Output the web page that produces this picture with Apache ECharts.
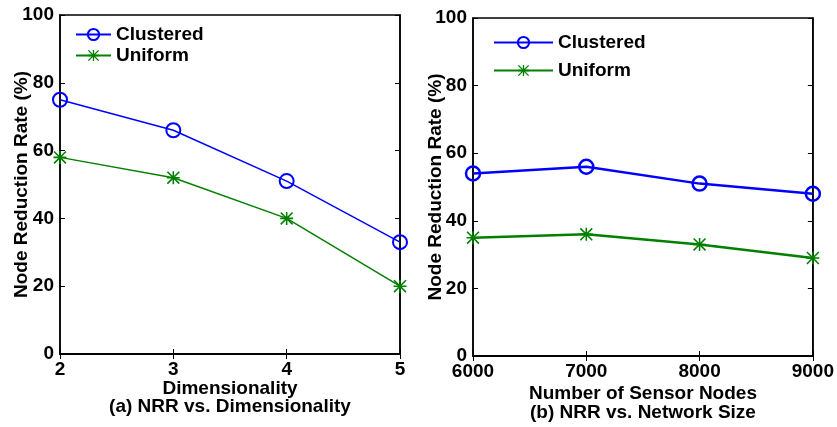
<!DOCTYPE html>
<html>
<head>
<meta charset="utf-8">
<script src="https://cdn.jsdelivr.net/npm/echarts@6/dist/echarts.min.js"></script>
<style>
  html, body { margin: 0; padding: 0; background: #fff; }
  #chart { width: 837px; height: 427px; }
</style>
</head>
<body>
<div id="chart"></div>
<script>
// Panel (a): node reduction rate vs. dimensionality
const dims = [2, 3, 4, 5];
const dimClustered = [75, 66, 51, 33];
const dimUniform = [58, 52, 40, 20];

// Panel (b): node reduction rate vs. number of sensor nodes
const nodes = [6000, 7000, 8000, 9000];
const nodeClustered = [54, 56, 51, 48];
const nodeUniform = [35, 36, 33, 29];

const FONT = '"Liberation Sans", Arial, Helvetica, sans-serif';
const BLUE = '#0000ff';
const GREEN = '#008000';

// 8-armed asterisk marker (plus + cross), all sub-paths clockwise
const ASTERISK = 'path://M8.8 0L11.2 0L11.2 20L8.8 20Z M0 8.8L20 8.8L20 11.2L0 11.2Z ' +
  'M1.7 0L20 18.3L18.3 20L0 1.7Z M18.3 0L20 1.7L1.7 20L0 18.3Z';

const pairs = (xs, ys) => xs.map((x, i) => [x, ys[i]]);

const txt = { fontFamily: FONT, fontWeight: 'bold', fontSize: 19, color: '#000' };
const axisLine = { show: true, lineStyle: { color: '#000', width: 1.5 } };
const tick = { show: true, inside: true, length: 5, lineStyle: { color: '#000', width: 1 } };

function xAxes(grid, min, max, interval, name, gap, lineHeight) {
  return [
    {
      type: 'value', gridIndex: grid, position: 'bottom', min, max, interval,
      axisLine, axisTick: tick, splitLine: { show: false },
      axisLabel: Object.assign({ margin: 6, formatter: v => String(v) }, txt),
      name, nameLocation: 'middle', nameGap: gap, nameMoveOverlap: false,
      nameTextStyle: Object.assign({ lineHeight }, txt)
    },
    {
      type: 'value', gridIndex: grid, position: 'top', min, max, interval,
      axisLine, axisTick: tick, splitLine: { show: false }, axisLabel: { show: false }
    }
  ];
}

function yAxes(grid, gap) {
  return [
    {
      type: 'value', gridIndex: grid, position: 'left', min: 0, max: 100, interval: 20,
      axisLine, axisTick: tick, splitLine: { show: false },
      axisLabel: Object.assign({ margin: 6 }, txt),
      name: 'Node Reduction Rate (%)', nameLocation: 'middle', nameGap: gap,
      nameMoveOverlap: false,
      nameTextStyle: txt
    },
    {
      type: 'value', gridIndex: grid, position: 'right', min: 0, max: 100, interval: 20,
      axisLine, axisTick: tick, splitLine: { show: false }, axisLabel: { show: false }
    }
  ];
}

function lineSeries(name, data, color, symbol, width, xi, yi) {
  const circle = symbol === 'circle';
  return {
    name, type: 'line', data, xAxisIndex: xi, yAxisIndex: yi,
    symbol, symbolSize: circle ? 14 : 13,
    showAllSymbol: true, clip: false, animation: false,
    lineStyle: { color, width },
    itemStyle: circle
      ? { color: 'rgba(255,255,255,0)', borderColor: color, borderWidth: width > 2 ? 2.5 : 2 }
      : { color, borderWidth: 0 },
    emphasis: { disabled: true }
  };
}

const legendBase = {
  orient: 'vertical',
  padding: 0,
  itemHeight: 14,
  textStyle: txt,
  formatter: n => n.replace('#b', ''),
  selectedMode: false
};

const chart = echarts.init(document.getElementById('chart'));
chart.setOption({
  animation: false,
  backgroundColor: '#fff',
  grid: [
    { left: 60, top: 15, width: 340, height: 339, show: true, borderColor: '#000', borderWidth: 1.5, containLabel: false },
    { left: 473, top: 18, width: 342, height: 338, show: true, borderColor: '#000', borderWidth: 1.5, containLabel: false }
  ],
  legend: [
    Object.assign({}, legendBase, { left: 75, top: 25, itemWidth: 35, itemGap: 2, data: ['Clustered', 'Uniform'] }),
    Object.assign({}, legendBase, { left: 493, top: 33, itemWidth: 59, itemGap: 9, data: ['Clustered#b', 'Uniform#b'] })
  ],
  xAxis: [
    ...xAxes(0, 2, 5, 1, 'Dimensionality\n(a) NRR vs. Dimensionality', 26, 18),
    ...xAxes(1, 6000, 9000, 1000, 'Number of Sensor Nodes\n(b) NRR vs. Network Size', 28, 19)
  ],
  yAxis: [
    ...yAxes(0, 29),
    ...yAxes(1, 28)
  ],
  series: [
    lineSeries('Clustered', pairs(dims, dimClustered), BLUE, 'circle', 1.5, 0, 0),
    lineSeries('Uniform', pairs(dims, dimUniform), GREEN, ASTERISK, 1.5, 0, 0),
    lineSeries('Clustered#b', pairs(nodes, nodeClustered), BLUE, 'circle', 2.5, 2, 2),
    lineSeries('Uniform#b', pairs(nodes, nodeUniform), GREEN, ASTERISK, 2.5, 2, 2)
  ]
});
</script>
</body>
</html>
